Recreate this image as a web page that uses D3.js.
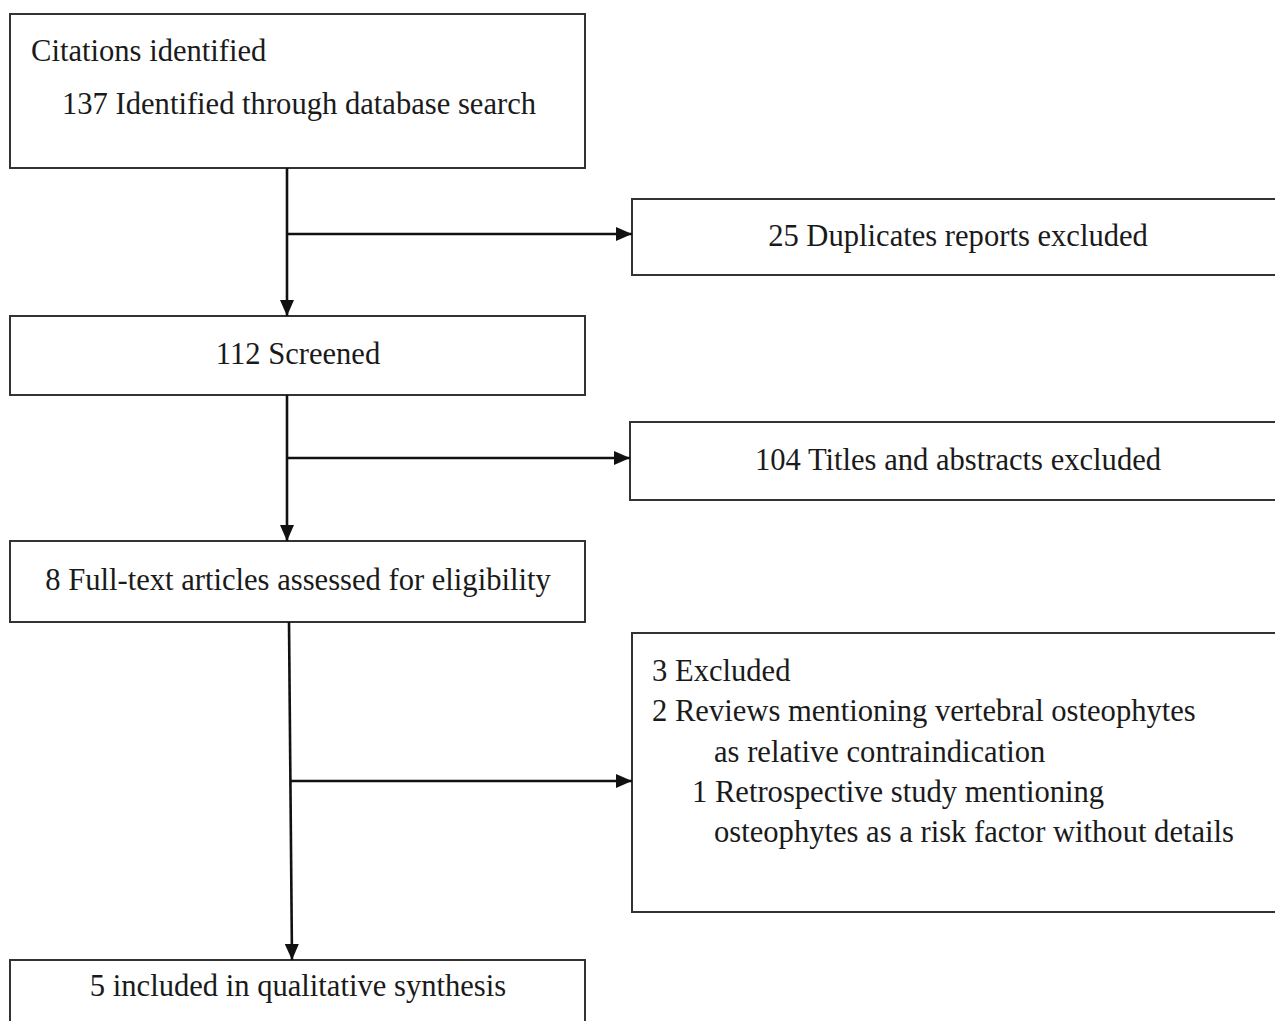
<!DOCTYPE html>
<html>
<head>
<meta charset="utf-8">
<script src="https://cdn.jsdelivr.net/npm/d3@7"></script>
<style>
  html, body { margin: 0; padding: 0; background: #fff; overflow: hidden; }
  text { font-family: "Liberation Serif", "Times New Roman", serif; fill: #1a1a1a; }
</style>
</head>
<body>
<svg id="chart"></svg>
<script>
// flow steps (left column) and exclusions (right column)
const mainSteps = [
  ["Citations identified", "137 Identified through database search"],
  ["112 Screened"],
  ["8 Full-text articles assessed for eligibility"],
  ["5 included in qualitative synthesis"]
];
const exclusions = [
  ["25 Duplicates reports excluded"],
  ["104 Titles and abstracts excluded"],
  ["3 Excluded",
   "2 Reviews mentioning vertebral osteophytes",
   "as relative contraindication",
   "1 Retrospective study mentioning",
   "osteophytes as a risk factor without details"]
];
// indent level per line of the last exclusion box
const exclusionIndent = [0, 0, 2, 1, 2];

const width = 1275;
const height = 1021;

const svg = d3.select("#chart")
  .attr("width", width)
  .attr("height", height);

// layout boxes (pixel geometry, separate from the data)
const mainBoxes = [
  { x: 10, y: 14, w: 575, h: 154 },
  { x: 10, y: 316, w: 575, h: 79 },
  { x: 10, y: 541, w: 575, h: 81 },
  { x: 10, y: 960, w: 575, h: 90 }
];
const sideBoxes = [
  { x: 632, y: 199, w: 700, h: 76 },
  { x: 630, y: 422, w: 700, h: 78 },
  { x: 632, y: 633, w: 700, h: 279 }
];
const branchY = [234, 458, 781];
const stemX = [[287, 287], [287, 287], [289, 292]];

const stroke = "#333";
const fontSize = 30.6;

svg.append("defs").append("marker")
  .attr("id", "arrow")
  .attr("viewBox", "0 0 16 14")
  .attr("refX", 16)
  .attr("refY", 7)
  .attr("markerWidth", 16)
  .attr("markerHeight", 14)
  .attr("markerUnits", "userSpaceOnUse")
  .attr("orient", "auto")
  .append("path")
  .attr("d", "M0,0L16,7L0,14Z")
  .attr("fill", "#111");

const g = svg.append("g");

// boxes
g.selectAll(".box")
  .data(mainBoxes.concat(sideBoxes))
  .join("rect")
  .attr("class", "box")
  .attr("x", d => d.x)
  .attr("y", d => d.y)
  .attr("width", d => d.w)
  .attr("height", d => d.h)
  .attr("fill", "none")
  .attr("stroke", stroke)
  .attr("stroke-width", 2);

// vertical stems between main boxes
g.selectAll(".stem")
  .data(d3.range(mainBoxes.length - 1))
  .join("line")
  .attr("class", "stem")
  .attr("x1", i => stemX[i][0])
  .attr("y1", i => mainBoxes[i].y + mainBoxes[i].h)
  .attr("x2", i => stemX[i][1])
  .attr("y2", i => mainBoxes[i + 1].y)
  .attr("stroke", "#111")
  .attr("stroke-width", 2.6)
  .attr("marker-end", "url(#arrow)");

// side branches
g.selectAll(".branch")
  .data(d3.range(sideBoxes.length))
  .join("line")
  .attr("class", "branch")
  .attr("x1", i => {
    const t = (branchY[i] - (mainBoxes[i].y + mainBoxes[i].h)) / (mainBoxes[i + 1].y - mainBoxes[i].y - mainBoxes[i].h);
    return stemX[i][0] + t * (stemX[i][1] - stemX[i][0]);
  })
  .attr("y1", i => branchY[i])
  .attr("x2", i => sideBoxes[i].x)
  .attr("y2", i => branchY[i])
  .attr("stroke", "#111")
  .attr("stroke-width", 2.6)
  .attr("marker-end", "url(#arrow)");

// main box text
const firstBox = mainBoxes[0];
g.append("text")
  .attr("x", firstBox.x + 21)
  .attr("y", 61)
  .attr("font-size", fontSize)
  .text(mainSteps[0][0]);
g.append("text")
  .attr("x", firstBox.x + 52)
  .attr("y", 114)
  .attr("font-size", fontSize)
  .text(mainSteps[0][1]);

const centeredBaselines = [null, 364, 590, 996];
mainSteps.forEach((lines, i) => {
  if (i === 0) return;
  g.append("text")
    .attr("x", mainBoxes[i].x + 288)
    .attr("y", centeredBaselines[i])
    .attr("text-anchor", "middle")
    .attr("font-size", fontSize)
    .text(lines[0]);
});

// side box text
const sideBaselines = [246, 470];
[0, 1].forEach(i => {
  g.append("text")
    .attr("x", 958)
    .attr("y", sideBaselines[i])
    .attr("text-anchor", "middle")
    .attr("font-size", fontSize)
    .text(exclusions[i][0]);
});

const lineY = d3.scaleLinear().domain([0, 4]).range([681, 842]);
const indentX = d3.scaleOrdinal().domain([0, 1, 2]).range([652, 692, 714]);
g.selectAll(".excl")
  .data(exclusions[2])
  .join("text")
  .attr("class", "excl")
  .attr("x", (d, i) => indentX(exclusionIndent[i]))
  .attr("y", (d, i) => lineY(i))
  .attr("font-size", fontSize)
  .text(d => d);
</script>
</body>
</html>
